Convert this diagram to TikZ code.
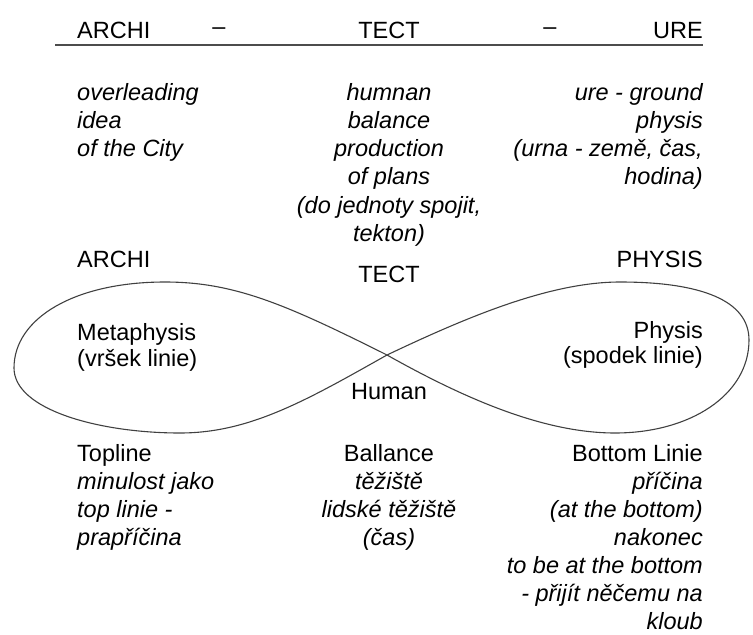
\documentclass[tikz,border=0pt]{standalone}
\usepackage{fontspec}
\setmainfont{Liberation Sans}
\tikzset{
  txt/.style={inner sep=0pt, font=\fontsize{23.5}{28}\selectfont},
  lft/.style={txt, anchor=base west},
  mid/.style={txt, anchor=base},
  rgt/.style={txt, anchor=base east},
  it/.style={font=\fontsize{23.5}{28}\selectfont\itshape},
  rule/.style={line width=1.6pt, draw=black!70},
  curve/.style={line width=1.1pt, draw=black!75}
}
\begin{document}
\begin{tikzpicture}[x=1pt,y=-1pt]
\useasboundingbox (0,0) rectangle (753,635);
% title row
\node[lft] (h1) at (77,38) {ARCHI};
\node[mid] (d1) at (219,34) {–};
\node[mid] (h2) at (389,38) {TECT};
\node[mid] (d2) at (550,34) {–};
\node[rgt] (h3) at (703,38) {URE};
\coordinate (l1) at (55,45);
\coordinate (l2) at (703,45);
\draw[rule] (l1) -- (l2);
% upper texts
\foreach \t [count=\i] in {overleading, idea, of the City}
  \node[lft,it] (a\i) at (77,{100+28.3*(\i-1)}) {\t};
\foreach \t [count=\i] in {humnan, balance, production, of plans, {(do jednoty spojit,}, tekton)}
  \node[mid,it] (b\i) at (389,{100+28.3*(\i-1)}) {\t};
\foreach \t [count=\i] in {ure - ground, physis, {(urna - země, čas,}, hodina)}
  \node[rgt,it] (c\i) at (703,{100+28.3*(\i-1)}) {\t};
% labels around the loop
\node[lft] (archi) at (77,267) {ARCHI};
\node[mid] (tect) at (389,282) {TECT};
\node[rgt] (physis) at (703,267) {PHYSIS};
\node[lft] (meta1) at (77,340) {Metaphysis};
\node[lft] (meta2) at (77,366) {(vršek linie)};
\node[rgt] (phy1) at (703,338) {Physis};
\node[rgt] (phy2) at (703,363) {(spodek linie)};
\node[mid] (human) at (389,399) {Human};
% infinity curve
\coordinate (C) at (387,355);
\coordinate (T1) at (165,282);
\coordinate (L) at (14,368);
\coordinate (B1) at (180,433);
\coordinate (T2) at (620,282);
\coordinate (R) at (749,340);
\coordinate (B2) at (615,433);
\draw[curve] (C) .. controls (287,305) and (235,282) .. (T1)
  .. controls (75,282) and (14,318) .. (L)
  .. controls (14,410) and (100,433) .. (B1)
  .. controls (250,433) and (307,400) .. (C)
  .. controls (467,317) and (550,282) .. (T2)
  .. controls (700,282) and (749,300) .. (R)
  .. controls (749,395) and (690,433) .. (B2)
  .. controls (545,433) and (467,400) .. (C);
% lower texts
\node[lft] (e1) at (77,461) {Topline};
\foreach \t [count=\i from 2] in {minulost jako, top linie -, prapříčina}
  \node[lft,it] (e\i) at (77,{461+28.1*(\i-1)}) {\t};
\node[mid] (f1) at (389,461) {Ballance};
\foreach \t [count=\i from 2] in {těžiště, lidské těžiště, (čas)}
  \node[mid,it] (f\i) at (389,{461+28.1*(\i-1)}) {\t};
\node[rgt] (g1) at (703,461) {Bottom Linie};
\foreach \t [count=\i from 2] in {příčina, (at the bottom), nakonec, to be at the bottom, - přijít něčemu na, kloub}
  \node[rgt,it] (g\i) at (703,{461+28.1*(\i-1)}) {\t};
\end{tikzpicture}
\end{document}
